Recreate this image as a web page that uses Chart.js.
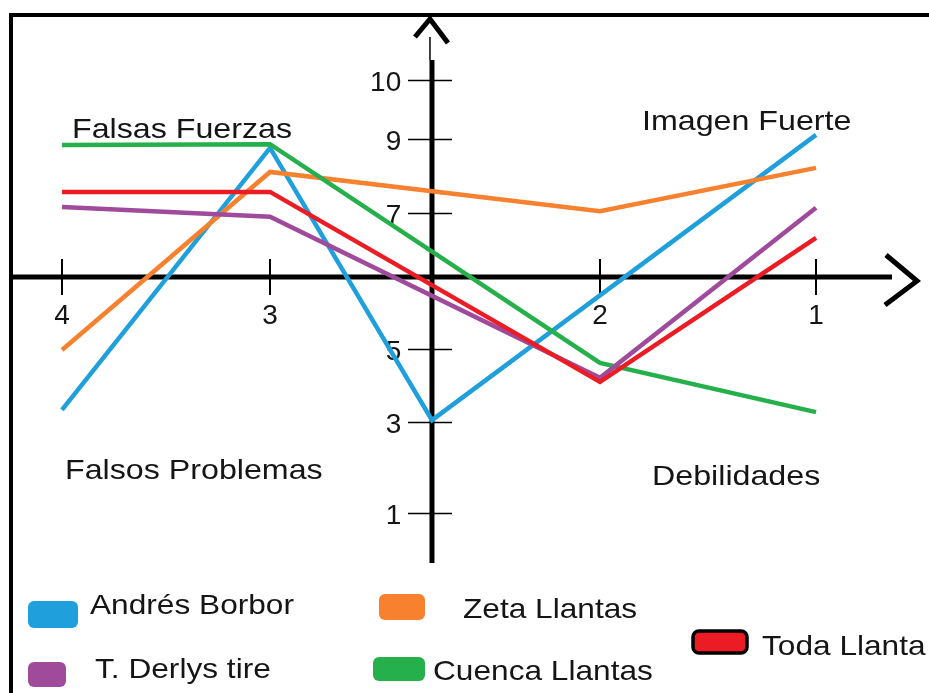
<!DOCTYPE html>
<html>
<head>
<meta charset="utf-8">
<script src="https://cdn.jsdelivr.net/npm/chart.js@4"></script>
<style>
  html, body { margin: 0; padding: 0; background: #fff; }
  canvas { display: block; }
</style>
</head>
<body>
<canvas id="c" width="929" height="693"></canvas>
<script>
// ---------------- data ----------------
const categories = ['4', '3', '', '2', '1'];
const xTickIndex = [0, 1, 3, 4];
const yTicks = [1, 3, 5, 7, 9, 10];
const seriesNames = ['Andrés Borbor', 'Zeta Llantas', 'Toda Llanta', 'T. Derlys tire', 'Cuenca Llantas'];
const andresBorbor  = [3.33, 8.76, 3.05, null, 9.07];
const zetaLlantas   = [4.97, 8.11, null, 7.05, 8.22];
const todaLlanta    = [7.57, 7.57, null, 4.10, 6.61];
const tDerlysTire   = [7.16, 6.94, null, 4.21, 7.14];
const cuencaLlantas = [8.84, 8.86, null, 4.62, 3.27];
const quadrantLabels = ['Falsas Fuerzas', 'Imagen Fuerte', 'Falsos Problemas', 'Debilidades'];

// ---------------- styles ----------------
const seriesColors = ['#1fa0dc', '#f7812f', '#ec1c24', '#a04a9c', '#26b04b'];
const FONT = "'Liberation Sans', Arial, sans-serif";
const TEXT = '#151515';

// irregular (hand-drawn) axis spacing: value -> fraction of the axis length
const AXIS_KNOTS = {
  x: [[0, 0.0545], [1, 0.2814], [2, 0.4580], [3, 0.6412], [4, 0.8768]],
  y: [[0, 0.0088], [1, 0.0975], [3, 0.2749], [5, 0.4172], [6, 0.5575], [7, 0.6823], [9, 0.8265], [10, 0.9415], [11, 1.0565]]
};

class PiecewiseScale extends Chart.LinearScale {
  static id = 'piecewise';
  _frac(v) {
    const k = AXIS_KNOTS[this.axis];
    let i = 0;
    if (v >= k[k.length - 1][0]) i = k.length - 2;
    else if (v > k[0][0]) { while (i < k.length - 2 && v > k[i + 1][0]) i++; }
    const [v0, f0] = k[i], [v1, f1] = k[i + 1];
    return f0 + (v - v0) * (f1 - f0) / (v1 - v0);
  }
  getPixelForValue(v) {
    if (v === null || v === undefined || isNaN(v)) return NaN;
    return this.getPixelForDecimal(this._frac(v));
  }
  getValueForPixel(p) {
    const f = this.getDecimalForPixel(p);
    const k = AXIS_KNOTS[this.axis];
    let i = 0;
    while (i < k.length - 2 && f > k[i + 1][1]) i++;
    const [v0, f0] = k[i], [v1, f1] = k[i + 1];
    return v0 + (f - f0) * (v1 - v0) / (f1 - f0);
  }
}
Chart.register(PiecewiseScale);

function stretchText(ctx, text, x, baseline, sx) {
  ctx.save();
  ctx.translate(x, baseline);
  ctx.scale(sx, 1);
  ctx.fillText(text, 0, 0);
  ctx.restore();
}
function roundRect(ctx, x, y, w, h, r) {
  ctx.beginPath();
  ctx.moveTo(x + r, y);
  ctx.arcTo(x + w, y, x + w, y + h, r);
  ctx.arcTo(x + w, y + h, x, y + h, r);
  ctx.arcTo(x, y + h, x, y, r);
  ctx.arcTo(x, y, x + w, y, r);
  ctx.closePath();
}

const decor = {
  id: 'decor',
  beforeDatasetsDraw(chart) {
    const {ctx, chartArea: ca, scales: {x, y}} = chart;
    const ax = x.getPixelForValue(2);
    const ay = y.getPixelForValue(6);
    ctx.save();
    ctx.strokeStyle = '#000';
    // frame
    ctx.lineWidth = 4;
    ctx.beginPath();
    ctx.moveTo(11, chart.height);
    ctx.lineTo(11, ca.top - 35);
    ctx.lineTo(chart.width, ca.top - 35);
    ctx.stroke();
    // vertical axis
    const thickTop = y.getPixelForValue(10) - 20;
    ctx.lineWidth = 5;
    ctx.beginPath(); ctx.moveTo(ax, thickTop); ctx.lineTo(ax, ca.bottom); ctx.stroke();
    ctx.lineWidth = 1.5;
    ctx.beginPath(); ctx.moveTo(ax - 2, ca.top - 13); ctx.lineTo(ax - 2, thickTop); ctx.stroke();
    ctx.lineWidth = 5;
    ctx.beginPath();
    ctx.moveTo(ax - 17, ca.top - 13); ctx.lineTo(ax - 2, ca.top - 31); ctx.lineTo(ax + 16, ca.top - 7);
    ctx.stroke();
    // horizontal axis
    ctx.beginPath(); ctx.moveTo(ca.left - 1, ay); ctx.lineTo(ca.right - 37, ay); ctx.stroke();
    ctx.beginPath();
    ctx.moveTo(ca.right - 43, ay - 22); ctx.lineTo(ca.right - 12, ay + 4); ctx.lineTo(ca.right - 44, ay + 28);
    ctx.stroke();
    // tick marks crossing the axes
    ctx.lineWidth = 1.5;
    yTicks.forEach(v => {
      const py = Math.round(y.getPixelForValue(v)) + 0.5;
      ctx.beginPath(); ctx.moveTo(ax - 24, py); ctx.lineTo(ax + 20, py); ctx.stroke();
    });
    ctx.lineWidth = 2;
    xTickIndex.forEach(i => {
      const px = Math.round(x.getPixelForValue(i));
      ctx.beginPath(); ctx.moveTo(px, ay - 18); ctx.lineTo(px, ay + 18); ctx.stroke();
    });
    ctx.restore();
  },
  afterDraw(chart) {
    const {ctx} = chart;
    ctx.save();
    ctx.fillStyle = TEXT;
    ctx.font = '28px ' + FONT;
    ctx.textAlign = 'left';
    ctx.textBaseline = 'alphabetic';
    const qPos = [[72, 138], [642, 130], [65, 479], [652, 485]];
    quadrantLabels.forEach((t, i) => stretchText(ctx, t, qPos[i][0], qPos[i][1], 1.15));

    // legend: [box x, y, w, h, text x, baseline]
    const lg = [
      [28, 601, 50, 27, 90, 614],
      [379, 594, 46, 26, 463, 618],
      [693, 631, 54, 22, 762, 655],
      [28, 662, 38, 25, 95, 678],
      [373, 657, 52, 24, 433, 680]
    ];
    seriesNames.forEach((name, i) => {
      const [bx, by, bw, bh, tx, tb] = lg[i];
      ctx.fillStyle = seriesColors[i];
      roundRect(ctx, bx, by, bw, bh, 6);
      ctx.fill();
      if (name === 'Toda Llanta') {
        ctx.lineWidth = 3.5;
        ctx.strokeStyle = '#000';
        ctx.stroke();
      }
      ctx.fillStyle = TEXT;
      stretchText(ctx, name, tx, tb, 1.13);
    });
    ctx.restore();
  }
};

const seriesData = [andresBorbor, zetaLlantas, todaLlanta, tDerlysTire, cuencaLlantas];
const drawOrder = [4, 3, 0, 1, 2];

new Chart(document.getElementById('c'), {
  type: 'line',
  data: {
    labels: categories.map((_, i) => i),
    datasets: seriesNames.map((name, i) => ({
      label: name,
      data: seriesData[i],
      borderColor: seriesColors[i],
      backgroundColor: seriesColors[i],
      borderWidth: 4.5,
      pointRadius: 0,
      tension: 0,
      spanGaps: true,
      fill: false,
      order: drawOrder[i]
    }))
  },
  options: {
    responsive: false,
    animation: false,
    events: [],
    layout: { padding: { left: 12, right: 0, top: 50, bottom: 130 } },
    plugins: { legend: { display: false }, tooltip: { enabled: false } },
    scales: {
      x: {
        type: 'piecewise',
        position: { y: 6 },
        min: -0.2,
        max: 4.5,
        grid: { display: false, drawTicks: false },
        border: { display: false },
        afterBuildTicks: s => { s.ticks = xTickIndex.map(v => ({ value: v })); },
        ticks: {
          callback: v => categories[v],
          font: { size: 28, family: FONT },
          color: TEXT,
          padding: 22,
          maxRotation: 0,
          autoSkip: false
        }
      },
      y: {
        type: 'piecewise',
        // labels sit to the left of the central axis line
        position: { x: 1.81 },
        min: 0,
        max: 11,
        grid: { display: false, drawTicks: false },
        border: { display: false },
        afterBuildTicks: s => { s.ticks = yTicks.map(v => ({ value: v })); },
        ticks: {
          callback: v => String(v),
          font: { size: 28, family: FONT },
          color: TEXT,
          padding: 31,
          labelOffset: 3,
          autoSkip: false
        }
      }
    }
  },
  plugins: [decor]
});
</script>
</body>
</html>
